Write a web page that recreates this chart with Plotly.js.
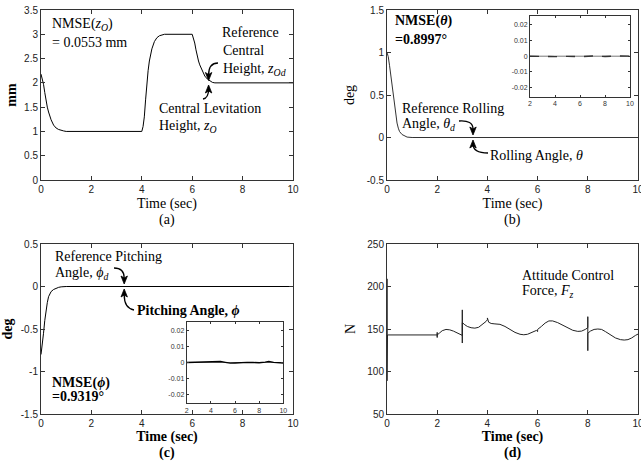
<!DOCTYPE html>
<html>
<head>
<meta charset="utf-8">
<script src="https://cdn.plot.ly/plotly-3.0.1.min.js"></script>
<style>html,body{margin:0;padding:0;background:#fff;}#chart{width:641px;height:463px;}</style>
</head>
<body>
<div id="chart"></div>
<script>
// ---------- Data ----------
// (a) Central levitation height z_O (mm)
const tA = [0, 0.05, 0.1, 0.15, 0.2, 0.25, 0.3, 0.35, 0.4, 0.5, 0.6, 0.7, 0.8, 0.9, 1.0,
            4.0, 4.05, 4.1, 4.15, 4.2, 4.25, 4.3, 4.4, 4.5, 4.6, 4.7, 4.8, 4.9,
            6.0, 6.05, 6.1, 6.15, 6.2, 6.25, 6.3, 6.4, 6.5, 6.6, 6.7, 6.8, 6.9, 10];
const zA = [2.18, 2.08, 1.97, 1.8, 1.63, 1.5, 1.4, 1.32, 1.24, 1.13, 1.07, 1.04, 1.02, 1.01, 1.0,
            1.0, 1.1, 1.3, 1.65, 2.0, 2.25, 2.45, 2.7, 2.85, 2.93, 2.97, 2.99, 3.0,
            3.0, 2.93, 2.82, 2.68, 2.55, 2.45, 2.37, 2.24, 2.14, 2.08, 2.04, 2.01, 2.0, 2.0];

// (b) Rolling angle theta (deg)
const tB = [0, 0.05, 0.1, 0.15, 0.2, 0.25, 0.3, 0.35, 0.4, 0.45, 0.5, 0.6, 0.7, 0.8, 1.0, 10];
const thetaB = [1.0, 0.95, 0.85, 0.74, 0.63, 0.5, 0.37, 0.26, 0.17, 0.11, 0.07, 0.035, 0.015, 0.005, 0, 0];
// (b) inset
const tBinsetRef = [2, 10];
const thetaBinsetRef = [0, 0];
const tBinset = [2, 3, 4, 5, 6, 7, 8, 9, 10];
const thetaBinset = [0, -0.0002, -0.0003, -0.0001, -0.0003, 0.0001, -0.0002, 0.0002, 0];

// (c) Pitching angle phi (deg)
const tC = [0, 0.05, 0.1, 0.15, 0.2, 0.25, 0.3, 0.4, 0.5, 0.6, 0.7, 0.8, 1.0, 10];
const phiC = [-0.8, -0.7, -0.55, -0.4, -0.28, -0.19, -0.12, -0.06, -0.035, -0.02, -0.01, -0.004, 0, 0];
// (c) inset
const tCinset = [2, 2.5, 3, 3.5, 4, 4.5, 4.8, 5.2, 5.6, 6, 6.5, 7, 7.5, 8, 8.5, 8.8, 9.2, 9.6, 10];
const phiCinset = [0, 0.0001, 0, 0.0002, 0, 0.0002, 0.0006, 0.0001, -0.0004, -0.0003, 0, 0.0001, 0,
                   -0.0002, 0.0002, 0.0006, 0.0001, -0.0002, -0.0003];

// (d) Attitude control force F_z (N)
const tD = [0, 0, 0, 0, 0, 0.02, 2.0, 2.0, 2.0, 2.0,
            2.1, 2.2, 2.35, 2.5, 2.65, 2.8, 2.95, 3.0, 3.0, 3.0, 3.0,
            3.1, 3.2, 3.35, 3.5, 3.65, 3.8, 3.95, 4.0, 4.0, 4.05, 4.15, 4.3, 4.5, 4.7, 4.9,
            5.1, 5.3, 5.45, 5.6, 5.8, 5.95, 6.0, 6.0, 6.15, 6.3, 6.45, 6.6, 6.8, 7.0, 7.2,
            7.4, 7.6, 7.75, 7.9, 8.0, 8.0, 8.0, 8.0, 8.1, 8.25, 8.4, 8.55, 8.7, 8.9, 9.1,
            9.3, 9.45, 9.6, 9.75, 9.9, 10.0];
const FD = [143, 209, 89, 162, 117, 143, 143, 146, 140, 143,
            145.5, 148, 149.5, 149, 147.5, 145, 143, 142.5, 172.5, 133.5, 157.5,
            155, 153, 151.5, 151, 152, 155, 159, 161, 163, 158, 156.5, 156, 155.5, 153, 149.5,
            146, 143.8, 143.2, 143.8, 146, 148.3, 147, 149.5, 153, 157, 159.5, 159.5, 157.5, 154.5, 151,
            148.5, 147.2, 147.5, 149.5, 151.5, 164.5, 124.5, 145, 147.5, 149.5, 150, 149.5, 147, 143, 139.5,
            137.5, 137, 137.5, 139.5, 142.5, 144];

// Tick labels
const xTicks = [0, 2, 4, 6, 8, 10];
const yTicksA = [0, 0.5, 1, 1.5, 2, 2.5, 3, 3.5];
const yTextA = ['0', '0.5', '1', '1.5', '2', '2.5', '3', '3.5'];
const yTicksB = [-0.5, 0, 0.5, 1, 1.5];
const yTextB = ['-0.5', '0', '0.5', '1', '1.5'];
const yTicksC = [-1.5, -1, -0.5, 0, 0.5];
const yTextC = ['-1.5', '-1', '-0.5', '0', '0.5'];
const yTicksD = [50, 100, 150, 200, 250];
const insetXTicks = [2, 4, 6, 8, 10];
const insetYTicks = [-0.02, -0.01, 0, 0.01, 0.02];
const insetYText = ['-0.02', '-0.01', '0', '0.01', '0.02'];

// ---------- Layout helpers ----------
const W = 641, H = 463;
const px = x => x / W;
const py = y => 1 - y / H;
const SERIF = 'Liberation Serif, Times New Roman, serif';
const SANS = 'Liberation Sans, Arial, sans-serif';

function ax(extra) {
  return Object.assign({
    showline: true, linecolor: '#333', linewidth: 1, mirror: 'ticks',
    ticks: 'inside', ticklen: 4, tickcolor: '#333', tickwidth: 1,
    showgrid: false, zeroline: false, fixedrange: true, ticklabeloverflow: 'allow',
    tickfont: {family: SANS, size: 10, color: '#222'}
  }, extra);
}
function inset(extra) {
  return ax(Object.assign({ticklen: 2, tickfont: {family: SANS, size: 7, color: '#333'}}, extra));
}
function xt(text, standoff) {
  return {text: text, font: {family: SERIF, size: 14, color: '#000'}, standoff: standoff};
}

const data = [
  {x: tA, y: zA, xaxis: 'x', yaxis: 'y', mode: 'lines', line: {color: '#000', width: 1}},
  {x: tB, y: thetaB, xaxis: 'x2', yaxis: 'y2', mode: 'lines', line: {color: '#333', width: 1}},
  {x: tC, y: phiC, xaxis: 'x3', yaxis: 'y3', mode: 'lines', line: {color: '#000', width: 1}},
  {x: tD, y: FD, xaxis: 'x4', yaxis: 'y4', mode: 'lines', line: {color: '#222', width: 1}},
  {x: tBinsetRef, y: thetaBinsetRef, xaxis: 'x5', yaxis: 'y5', mode: 'lines', line: {color: '#777', width: 1}},
  {x: tBinset, y: thetaBinset, xaxis: 'x5', yaxis: 'y5', mode: 'lines', line: {color: '#333', width: 1.4, dash: 'dash'}},
  {x: tBinsetRef, y: thetaBinsetRef, xaxis: 'x6', yaxis: 'y6', mode: 'lines', line: {color: '#888', width: 1}},
  {x: tCinset, y: phiCinset, xaxis: 'x6', yaxis: 'y6', mode: 'lines', line: {color: '#000', width: 1.4}}
];

const yTop = [py(180), py(10)];
const yBot = [py(414), py(244)];
const xLeft = [px(41), px(293)];
const xRight = [px(387), px(638)];

function note(x, y, text, opts) {
  return Object.assign({xref: 'paper', yref: 'paper', x: px(x), y: py(y), text: text,
    showarrow: false, xanchor: 'left', yanchor: 'middle',
    font: {family: SERIF, size: 14, color: '#000'}}, opts || {});
}
function P(x, y) { return px(x) + ' ' + py(y); }
function curve(x0, y0, cx, cy, x1, y1) {
  return {type: 'path', xref: 'paper', yref: 'paper',
    path: 'M ' + P(x0, y0) + ' Q ' + P(cx, cy) + ' ' + P(x1, y1),
    line: {color: '#000', width: 1.3}};
}
// arrowhead: tip at (x,y); dir = +1 points down, -1 points up
function tip(x, y, dir) {
  return {type: 'path', xref: 'paper', yref: 'paper',
    path: 'M ' + P(x, y) + ' L ' + P(x - 3.2, y - dir * 8) + ' L ' + P(x, y - dir * 6) +
          ' L ' + P(x + 3.2, y - dir * 8) + ' Z',
    fillcolor: '#000', line: {color: '#000', width: 0.8}};
}

const annotations = [
  // (a)
  note(50, 25, 'NMSE(<i>z</i><sub><i>O</i></sub>)'),
  note(50, 43, '= 0.0553 mm'),
  note(220, 33, 'Reference'),
  note(221, 51, 'Central'),
  note(221, 69, 'Height, <i>z</i><sub><i>Od</i></sub>'),
  note(157, 108, 'Central Levitation'),
  note(157, 126, 'Height, <i>z</i><sub><i>O</i></sub>'),
  note(167, 220, '(a)', {xanchor: 'center'}),
  // (b)
  note(393, 21, '<b>NMSE(<i>θ</i>)</b>'),
  note(393, 40, '<b>=0.8997°</b>'),
  note(400, 108, 'Reference Rolling'),
  note(400, 125, 'Angle, <i>θ</i><sub><i>d</i></sub>'),
  note(488, 155, 'Rolling Angle, <i>θ</i>'),
  note(512, 220, '(b)', {xanchor: 'center'}),
  // (c)
  note(53, 256, 'Reference Pitching'),
  note(53, 273, 'Angle, <i>ϕ</i><sub><i>d</i></sub>'),
  note(135, 310, '<b>Pitching Angle, <i>ϕ</i></b>'),
  note(50, 383, '<b>NMSE(<i>ϕ</i>)</b>'),
  note(50, 396, '<b>=0.9319°</b>'),
  note(167, 453, '<b>(c)</b>', {xanchor: 'center'}),
  // (d)
  note(520, 275, 'Attitude Control'),
  note(520, 291, 'Force, <i>F</i><sub><i>z</i></sub>'),
  note(512, 453, '<b>(d)</b>', {xanchor: 'center'})
];

const shapes = [
  // (a)
  curve(218, 63, 208.6, 63, 208.6, 75), tip(208.6, 80.5, 1),
  curve(203, 99, 208.6, 98, 208.6, 89), tip(208.6, 85, -1),
  // (b)
  curve(459, 121, 473, 120, 473, 129), tip(473, 135, 1),
  curve(488, 153, 473, 153, 473, 144), tip(473, 140, -1),
  // (c)
  curve(114, 268, 124.2, 268, 124.2, 278), tip(124.2, 284, 1),
  curve(134, 310, 124.2, 308, 124.2, 295), tip(124.2, 289, -1)
];

const layout = {
  width: W, height: H,
  margin: {l: 0, r: 0, t: 0, b: 0},
  paper_bgcolor: '#fff', plot_bgcolor: 'rgba(0,0,0,0)',
  showlegend: false,
  xaxis: ax({domain: xLeft, anchor: 'y', range: [0, 10], tickvals: xTicks, title: xt('Time (sec)', 4)}),
  yaxis: ax({domain: yTop, anchor: 'x', range: [0, 3.5], tickvals: yTicksA, ticktext: yTextA,
    title: xt('<b>mm</b>', 4)}),
  xaxis2: ax({domain: xRight, anchor: 'y2', range: [0, 10], tickvals: xTicks, title: xt('Time (sec)', 4)}),
  yaxis2: ax({domain: yTop, anchor: 'x2', range: [-0.5, 1.5], tickvals: yTicksB, ticktext: yTextB,
    title: xt('deg', 8)}),
  xaxis3: ax({domain: xLeft, anchor: 'y3', range: [0, 10], tickvals: xTicks, title: xt('<b>Time (sec)</b>', 2)}),
  yaxis3: ax({domain: yBot, anchor: 'x3', range: [-1.5, 0.5], tickvals: yTicksC, ticktext: yTextC,
    title: xt('<b>deg</b>', 4)}),
  xaxis4: ax({domain: xRight, anchor: 'y4', range: [0, 10], tickvals: xTicks, title: xt('<b>Time (sec)</b>', 2)}),
  yaxis4: ax({domain: yBot, anchor: 'x4', range: [50, 250], tickvals: yTicksD,
    title: xt('N', 8)}),
  xaxis5: inset({domain: [px(530), px(630)], anchor: 'y5', range: [2, 10], tickvals: insetXTicks}),
  yaxis5: inset({domain: [py(96.7), py(15.7)], anchor: 'x5', range: [-0.0258, 0.0258],
    tickvals: insetYTicks, ticktext: insetYText}),
  xaxis6: inset({domain: [px(186.7), px(283.3)], anchor: 'y6', range: [2, 10], tickvals: insetXTicks}),
  yaxis6: inset({domain: [py(403.3), py(321.7)], anchor: 'x6', range: [-0.0258, 0.0258],
    tickvals: insetYTicks, ticktext: insetYText}),
  annotations: annotations,
  shapes: shapes
};

Plotly.newPlot('chart', data, layout, {displayModeBar: false, staticPlot: true});
</script>
</body>
</html>
